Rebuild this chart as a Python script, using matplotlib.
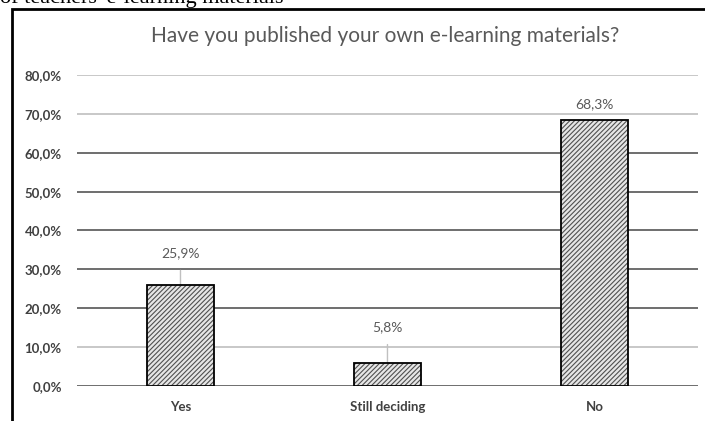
import matplotlib
matplotlib.use('Agg')
import matplotlib.pyplot as plt
from matplotlib.patches import Rectangle

# Data
categories = ['Yes', 'Still deciding', 'No']
shares = [25.9, 5.8, 68.3]
yticks = [0, 10, 20, 30, 40, 50, 60, 70, 80]
title = 'Have you published your own e-learning materials?'
caption_above = "of teachers' e-learning materials"

plt.rcParams['font.family'] = ['Lato', 'DejaVu Sans']
plt.rcParams['hatch.linewidth'] = 0.8

fig = plt.figure(figsize=(7.05, 4.21), dpi=100)
ax = fig.add_axes([0.1092, 0.0831, 0.8808, 0.7388])

x = list(range(len(categories)))
# hatched fill in grey, then a black outline on top
ax.bar(x, shares, width=0.32, color='#e6e6e6', edgecolor='#505050',
       linewidth=0, hatch='///////', zorder=3)
ax.bar(x, shares, width=0.32, fill=False, edgecolor='black',
       linewidth=1.3, zorder=4)

ax.set_xlim(-0.5, len(categories) - 0.5)
ax.set_ylim(0, 80)
ax.set_yticks(yticks)
ax.set_yticklabels(['{:.1f}%'.format(v).replace('.', ',') for v in yticks])
ax.set_xticks(x)
ax.set_xticklabels(categories)
ax.tick_params(axis='both', length=0, labelsize=9.5, labelcolor='#404040')
ax.tick_params(axis='y', pad=11)
ax.tick_params(axis='x', pad=11)
for lbl in ax.get_xticklabels() + ax.get_yticklabels():
    lbl.set_fontweight('bold')

for s in ax.spines.values():
    s.set_visible(False)

# gridlines, scanned look: some light, some dark
ax.grid(axis='y', linewidth=1.4, zorder=0)
light = {1, 7, 8}
for i, gl in enumerate(ax.get_ygridlines()):
    gl.set_color('#c8c8c8' if i in light else '#6e6e6e')

# data labels, lifted by hand with leader lines
lift = [32, 36, 16]
for xi, v, d in zip(x, shares, lift):
    txt = '{:.1f}%'.format(v).replace('.', ',')
    ax.annotate(txt, xy=(xi, v), xytext=(0, d), textcoords='offset pixels',
                ha='center', va='center', fontsize=10, color='#595959',
                arrowprops=dict(arrowstyle='-', color='#c0c0c0', lw=1,
                                shrinkA=6, shrinkB=0) if d > 20 else None)

fig.text(0.546, 0.915, title, ha='center', va='center', fontsize=15,
         color='#595959')

# chart frame, cut by the page crop
fig.patches.append(Rectangle((12 / 705, -0.2), 1.2, 1.2 - 9 / 421 + 0.001,
                             transform=fig.transFigure, fill=False,
                             edgecolor='black', linewidth=2))
fig.text(0.0, 1 - 3 / 421, caption_above, ha='left', va='baseline',
         fontsize=16, family='Liberation Serif', color='black')

fig.savefig('out.png', dpi=100)
